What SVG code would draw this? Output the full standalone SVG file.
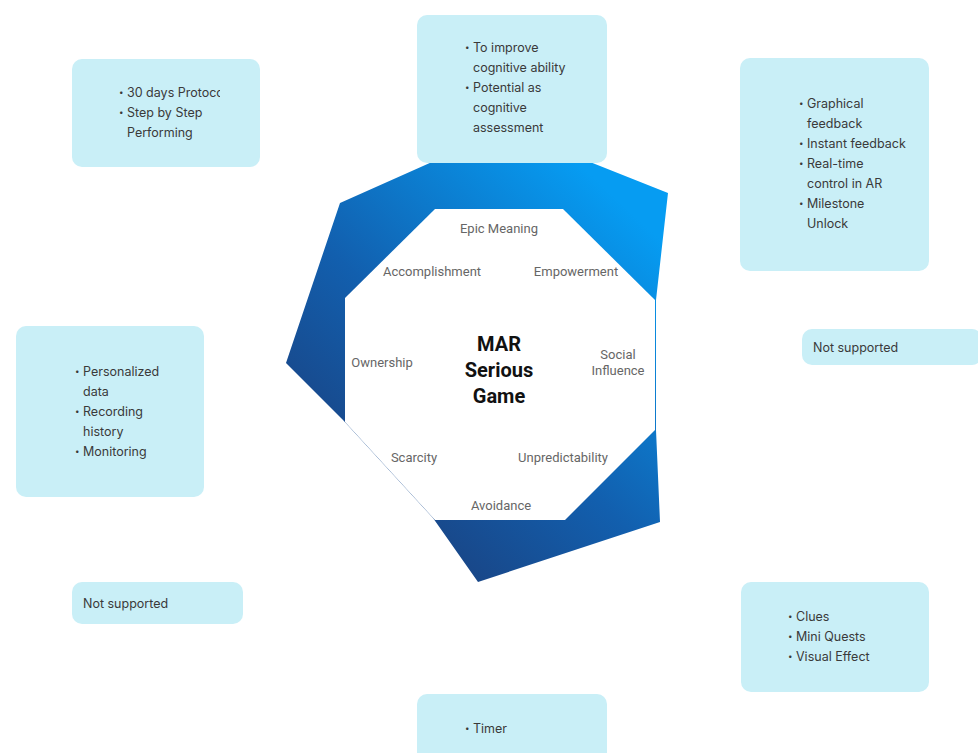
<svg xmlns="http://www.w3.org/2000/svg" width="978" height="753" viewBox="0 0 978 753">
<defs>
<linearGradient id="blueGrad" gradientUnits="userSpaceOnUse" x1="360" y1="540" x2="650" y2="230">
<stop offset="0" stop-color="#1b3f7c"/>
<stop offset="0.45" stop-color="#125fae"/>
<stop offset="1" stop-color="#069cf2"/>
</linearGradient>
<clipPath id="clipTL"><rect x="72" y="59" width="148" height="108"/></clipPath>
</defs>
<style>
.box{fill:#c9eff7;}
.bt{font-family:Inter,"Liberation Sans",sans-serif;font-size:12.5px;fill:#3a3a3a;}
.bl{font-family:Inter,"Liberation Sans",sans-serif;font-size:8px;fill:#3a3a3a;}
.lab{font-family:Roboto,"Liberation Sans",sans-serif;font-size:13px;fill:#666666;text-anchor:middle;}
.title{font-family:Roboto,"Liberation Sans",sans-serif;font-size:20px;font-weight:bold;fill:#111111;text-anchor:middle;}
</style>
<rect width="978" height="753" fill="#ffffff"/>

<g id="center-octagon">
<path d="M340,203 L432,162 L590,162 L668,193 L656,300 L656,430 L660,522 L478,582 L433,518 L343,420 L286,363 Z" fill="url(#blueGrad)"/>
<polygon points="435,209 563,209 655,300 655,430 565,520 435,520 345,422 345,298" fill="#ffffff"/>
<text class="lab" x="499" y="233">Epic Meaning</text>
<text class="lab" x="432" y="276">Accomplishment</text>
<text class="lab" x="576" y="276">Empowerment</text>
<text class="lab" x="382" y="367">Ownership</text>
<text class="lab" x="618" y="359">Social</text>
<text class="lab" x="618" y="375">Influence</text>
<text class="lab" x="414" y="462">Scarcity</text>
<text class="lab" x="563" y="462">Unpredictability</text>
<text class="lab" x="501" y="510">Avoidance</text>
<text class="title" x="499" y="351">MAR</text>
<text class="title" x="499" y="377">Serious</text>
<text class="title" x="499" y="403">Game</text>
</g>

<g id="box-top-left">
<rect class="box" x="72" y="59" width="188" height="108" rx="10"/>
<g clip-path="url(#clipTL)">
<text class="bl" x="119" y="95">•</text><text class="bt" x="127" y="97">30 days Protocol</text>
<text class="bl" x="119" y="115">•</text><text class="bt" x="127" y="117">Step by Step</text>
<text class="bt" x="127" y="137">Performing</text>
</g>
</g>

<g id="box-top-center">
<rect class="box" x="417" y="15" width="190" height="148" rx="10"/>
<text class="bl" x="465" y="50">•</text><text class="bt" x="473" y="52">To improve</text>
<text class="bt" x="473" y="72">cognitive ability</text>
<text class="bl" x="465" y="90">•</text><text class="bt" x="473" y="92">Potential as</text>
<text class="bt" x="473" y="112">cognitive</text>
<text class="bt" x="473" y="132">assessment</text>
</g>

<g id="box-top-right">
<rect class="box" x="740" y="58" width="189" height="213" rx="10"/>
<text class="bl" x="799" y="106">•</text><text class="bt" x="807" y="108">Graphical</text>
<text class="bt" x="807" y="128">feedback</text>
<text class="bl" x="799" y="146">•</text><text class="bt" x="807" y="148">Instant feedback</text>
<text class="bl" x="799" y="166">•</text><text class="bt" x="807" y="168">Real-time</text>
<text class="bt" x="807" y="188">control in AR</text>
<text class="bl" x="799" y="206">•</text><text class="bt" x="807" y="208">Milestone</text>
<text class="bt" x="807" y="228">Unlock</text>
</g>

<g id="box-left">
<rect class="box" x="16" y="326" width="188" height="171" rx="10"/>
<text class="bl" x="75" y="374">•</text><text class="bt" x="83" y="376">Personalized</text>
<text class="bt" x="83" y="396">data</text>
<text class="bl" x="75" y="414">•</text><text class="bt" x="83" y="416">Recording</text>
<text class="bt" x="83" y="436">history</text>
<text class="bl" x="75" y="454">•</text><text class="bt" x="83" y="456">Monitoring</text>
</g>

<g id="box-right-not-supported">
<rect class="box" x="802" y="329" width="180" height="36" rx="10"/>
<text class="bt" x="813" y="352">Not supported</text>
</g>

<g id="box-left-not-supported">
<rect class="box" x="72" y="582" width="171" height="42" rx="10"/>
<text class="bt" x="83" y="608">Not supported</text>
</g>

<g id="box-bottom-right">
<rect class="box" x="741" y="582" width="188" height="110" rx="10"/>
<text class="bl" x="788" y="619">•</text><text class="bt" x="796" y="621">Clues</text>
<text class="bl" x="788" y="639">•</text><text class="bt" x="796" y="641">Mini Quests</text>
<text class="bl" x="788" y="659">•</text><text class="bt" x="796" y="661">Visual Effect</text>
</g>

<g id="box-bottom-center">
<rect class="box" x="417" y="694" width="190" height="80" rx="10"/>
<text class="bl" x="465" y="731">•</text><text class="bt" x="473" y="733">Timer</text>
</g>

<g id="connectors"></g>
</svg>
